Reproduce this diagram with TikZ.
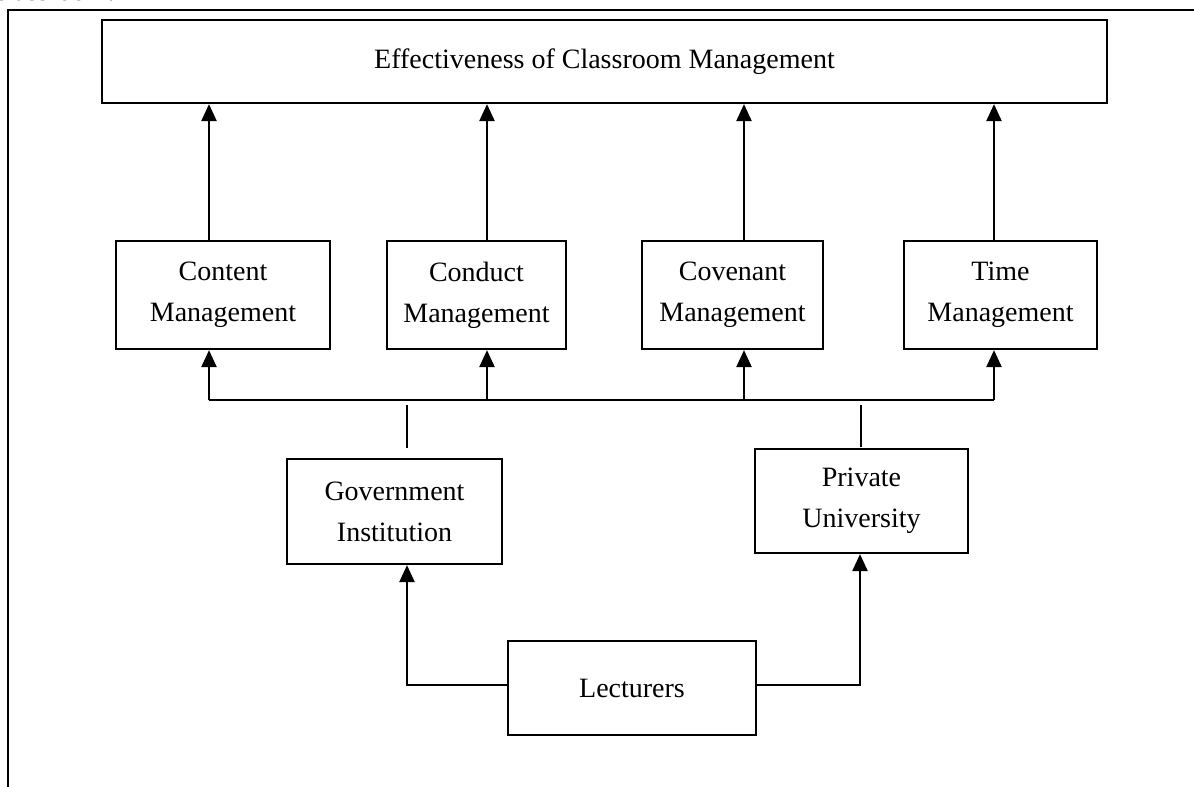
\documentclass[tikz,border=0pt]{standalone}
\usepackage{fontspec}
\setmainfont{Liberation Serif}
\usetikzlibrary{arrows.meta}
\begin{document}
\begin{tikzpicture}[x=1pt,y=-1pt,
  box/.style={draw,line width=2.2pt,inner sep=0pt,align=center,
    font=\fontsize{28}{41}\selectfont},
  line/.style={line width=2.2pt},
  thin/.style={line width=1.6pt},
  arr/.style={line width=2.4pt,-{Triangle[length=17pt,width=15pt]}},
  lbl/.style={inner sep=0pt,font=\fontsize{28}{41}\selectfont}]
\useasboundingbox (0,0) rectangle (1194,787);
% partially visible text above the frame
\node[lbl,anchor=base west] (cap) at (-6,0) {classroom.};
% outer frame (top and left edges)
\coordinate (fl) at (8,787);
\coordinate (fc) at (8,10);
\coordinate (fr) at (1194,10);
\draw[line] (fl) -- (fc) -- (fr);
% boxes
\node[box,minimum width=1005pt,minimum height=83pt] (top) at (604.5,61.5) {Effectiveness of Classroom Management};
\node[box,minimum width=214pt,minimum height=108pt] (content) at (223,295) {Content\\Management};
\node[box,minimum width=179pt,minimum height=108pt] (conduct) at (476.5,295) {Conduct\\Management};
\node[box,minimum width=181pt,minimum height=108pt] (covenant) at (732.5,295) {Covenant\\Management};
\node[box,minimum width=193pt,minimum height=108pt] (time) at (1000.5,295) {Time\\Management};
\node[box,minimum width=215pt,minimum height=105pt] (gov) at (394.5,511.5) {Government\\Institution};
\node[box,minimum width=213pt,minimum height=104pt] (priv) at (861.5,501) {Private\\University};
\node[box,minimum width=248pt,minimum height=94pt] (lect) at (632,688) {Lecturers};
% arrow columns
\coordinate (a1) at (209,400);
\coordinate (a2) at (487,400);
\coordinate (a3) at (744,400);
\coordinate (a4) at (994,400);
% arrows to top box
\draw[arr] (content.north -| a1) -- (top.south -| a1);
\draw[arr] (conduct.north -| a2) -- (top.south -| a2);
\draw[arr] (covenant.north -| a3) -- (top.south -| a3);
\draw[arr] (time.north -| a4) -- (top.south -| a4);
% bus
\draw[thin] (a1) -- (a4);
\draw[arr] (a1) -- (content.south -| a1);
\draw[arr] (a2) -- (conduct.south -| a2);
\draw[arr] (a3) -- (covenant.south -| a3);
\draw[arr] (a4) -- (time.south -| a4);
% disconnected stubs
\coordinate (g1) at (407,405);
\coordinate (g2) at (407,448);
\coordinate (p1) at (861,405);
\coordinate (p2) at (861,447);
\draw[thin] (g1) -- (g2);
\draw[thin] (p1) -- (p2);
% lecturers to institutions
\coordinate (lg) at (407,685);
\coordinate (lp) at (860,685);
\draw[arr] (lect.west |- lg) -- (lg) -- (gov.south -| lg);
\draw[arr] (lect.east |- lp) -- (lp) -- (priv.south -| lp);
\end{tikzpicture}
\end{document}
